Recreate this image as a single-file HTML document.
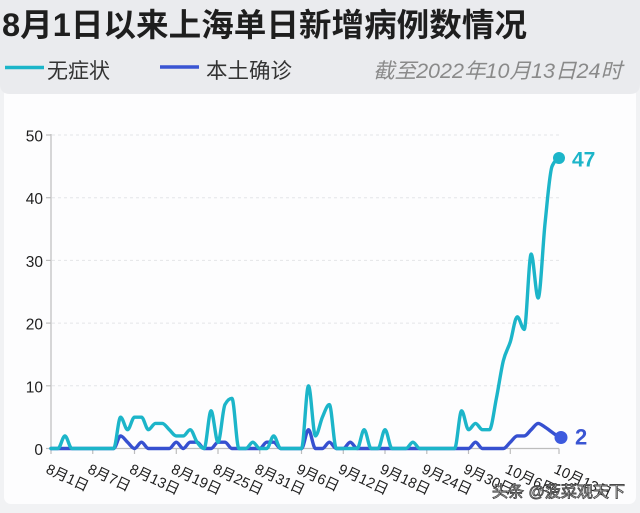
<!DOCTYPE html>
<html><head><meta charset="utf-8">
<style>
html,body{margin:0;padding:0;background:#f3f4f6;}
svg{display:block;}
text{font-family:"Liberation Sans","Noto Sans CJK SC",sans-serif;}
</style></head>
<body>
<svg id="c" width="640" height="513" viewBox="0 0 640 513" xmlns="http://www.w3.org/2000/svg">
  <rect x="0" y="0" width="640" height="513" fill="#f1f2f4"/>
  <rect x="4" y="88" width="632" height="416" rx="7" fill="#fdfdfe"/>
  <path d="M0,0 H640 V84 Q640,94 630,94 H10 Q0,94 0,84 Z" fill="#eaebee"/>

  <!-- title -->
  <text x="2" y="36" font-size="32" font-weight="bold" fill="#1e1e1e" textLength="525" lengthAdjust="spacingAndGlyphs">8月1日以来上海单日新增病例数情况</text>

  <!-- legend -->
  <line x1="5" y1="67.5" x2="44" y2="67.5" stroke="#1cb5c9" stroke-width="3.5"/>
  <text x="47" y="78" font-size="21" fill="#333" textLength="63" lengthAdjust="spacingAndGlyphs">无症状</text>
  <line x1="160" y1="67" x2="199" y2="67" stroke="#3a55d3" stroke-width="3.5"/>
  <text x="206" y="78" font-size="21" fill="#333" textLength="86" lengthAdjust="spacingAndGlyphs">本土确诊</text>
  <text x="373" y="78" font-size="21" font-style="italic" fill="#8a8a8a" textLength="249" lengthAdjust="spacingAndGlyphs">截至2022年10月13日24时</text>

  <!-- grid -->
  <g stroke="#e4e5e8" stroke-width="1" stroke-dasharray="3,3">
    <line x1="52" y1="135" x2="559" y2="135"/>
    <line x1="52" y1="197.7" x2="559" y2="197.7"/>
    <line x1="52" y1="260.4" x2="559" y2="260.4"/>
    <line x1="52" y1="323.1" x2="559" y2="323.1"/>
    <line x1="52" y1="385.8" x2="559" y2="385.8"/>
  </g>
  <!-- axes -->
  <g stroke="#bdbdbd" stroke-width="1.2">
    <line x1="51" y1="134" x2="51" y2="449"/>
    <line x1="51" y1="448.5" x2="559" y2="448.5"/>
    <line x1="46" y1="135" x2="51" y2="135"/>
    <line x1="46" y1="197.7" x2="51" y2="197.7"/>
    <line x1="46" y1="260.4" x2="51" y2="260.4"/>
    <line x1="46" y1="323.1" x2="51" y2="323.1"/>
    <line x1="46" y1="385.8" x2="51" y2="385.8"/>
    <line x1="46" y1="448.5" x2="51" y2="448.5"/>
    <line x1="51" y1="448.5" x2="51" y2="454"/>
    <line x1="92.75" y1="448.5" x2="92.75" y2="454"/>
    <line x1="134.5" y1="448.5" x2="134.5" y2="454"/>
    <line x1="176.3" y1="448.5" x2="176.3" y2="454"/>
    <line x1="218" y1="448.5" x2="218" y2="454"/>
    <line x1="259.8" y1="448.5" x2="259.8" y2="454"/>
    <line x1="301.5" y1="448.5" x2="301.5" y2="454"/>
    <line x1="343.3" y1="448.5" x2="343.3" y2="454"/>
    <line x1="385" y1="448.5" x2="385" y2="454"/>
    <line x1="426.8" y1="448.5" x2="426.8" y2="454"/>
    <line x1="468.5" y1="448.5" x2="468.5" y2="454"/>
    <line x1="510.3" y1="448.5" x2="510.3" y2="454"/>
    <line x1="559" y1="448.5" x2="559" y2="454"/>
  </g>

  <!-- y labels -->
  <g font-size="15.5" fill="#1e1e1e" text-anchor="end">
    <text x="43" y="141.5">50</text>
    <text x="43" y="204.2">40</text>
    <text x="43" y="266.9">30</text>
    <text x="43" y="329.6">20</text>
    <text x="43" y="392.3">10</text>
    <text x="43" y="455">0</text>
  </g>

  <!-- x labels -->
  <g font-size="14.5" fill="#1e1e1e">
    <text transform="translate(45,472.5) rotate(25)">8月1日</text>
    <text transform="translate(86.75,472.5) rotate(25)">8月7日</text>
    <text transform="translate(128.5,472.5) rotate(25)">8月13日</text>
    <text transform="translate(170.3,472.5) rotate(25)">8月19日</text>
    <text transform="translate(212,472.5) rotate(25)">8月25日</text>
    <text transform="translate(253.8,472.5) rotate(25)">8月31日</text>
    <text transform="translate(295.5,472.5) rotate(25)">9月6日</text>
    <text transform="translate(337.3,472.5) rotate(25)">9月12日</text>
    <text transform="translate(379,472.5) rotate(25)">9月18日</text>
    <text transform="translate(420.8,472.5) rotate(25)">9月24日</text>
    <text transform="translate(462.5,472.5) rotate(25)">9月30日</text>
    <text transform="translate(504.3,472.5) rotate(25)">10月6日</text>
    <text transform="translate(553,472.5) rotate(25)">10月13日</text>
  </g>

  <!-- series -->
  <path id="blue" d="" fill="none" stroke="#3650d0" stroke-width="3.4" stroke-linejoin="round" stroke-linecap="round"/>
  <path id="cyan" d="" fill="none" stroke="#1cb5c9" stroke-width="3.4" stroke-linejoin="round" stroke-linecap="round"/>

  <circle cx="559" cy="158" r="6" fill="#1cb5c9"/>
  <circle cx="561" cy="437.5" r="6.5" fill="#3d5ade"/>
  <text x="572" y="166.5" font-size="21" font-weight="bold" fill="#1cb5c9">47</text>
  <text x="575" y="444.5" font-size="22" font-weight="bold" fill="#3a55d3">2</text>

  <!-- watermark -->
  <text x="492" y="497" font-size="16" fill="#ffffff" stroke="#4a4a4a" stroke-width="0.9" textLength="133" lengthAdjust="spacingAndGlyphs">头条 @菠菜观天下</text>
</svg>
<script>
(function(){
  var cyan=[0,0,2,0,0,0,0,0,0,0,
            5,3,5,5,3,4,4,3,2,2,
            3,1,0,6,1,7,8,0,0,1,
            0,0,2,0,0,0,0,10,2,5,
            7,0,0,0,0,3,0,0,3,0,
            0,0,1,0,0,0,0,0,0,6,
            3,4,3,3,8,14,17,21,19,31,
            24,36,45,46.3];
  var blue=[0,0,0,0,0,0,0,0,0,0,
            2,1,0,1,0,0,0,0,1,0,
            1,1,0,0,1,1,0,0,0,0,
            0,1,1,0,0,0,0,3,0,0,
            1,0,0,1,0,0,0,0,0,0,
            0,0,0,0,0,0,0,0,0,0,
            0,1,0,0,0,0,1,2,2,3,
            4,3.4,2.6,1.8];
  function X(i){return 51+i*6.959;}
  function Y(v){return 448.5-v*6.27;}
  function sign(v){return v<0?-1:(v>0?1:0);}
  function mono(vals){
    var n=vals.length,xs=[],ys=[],h=[],s=[],t=[],i;
    for(i=0;i<n;i++){xs.push(X(i));ys.push(Y(vals[i]));}
    for(i=0;i<n-1;i++){h[i]=xs[i+1]-xs[i];s[i]=(ys[i+1]-ys[i])/h[i];}
    for(i=1;i<n-1;i++){
      if(s[i-1]*s[i]<=0){t[i]=0;}
      else{
        var p=(s[i-1]*h[i]+s[i]*h[i-1])/(h[i-1]+h[i]);
        t[i]=(sign(s[i-1])+sign(s[i]))*Math.min(Math.abs(s[i-1]),Math.abs(s[i]),0.5*Math.abs(p));
      }
    }
    t[0]=s[0]===0?0:(3*s[0]-t[1])/2;
    t[n-1]=(3*s[n-2]-t[n-2])/2;
    var d="M"+xs[0].toFixed(2)+","+ys[0].toFixed(2);
    for(i=0;i<n-1;i++){
      var hh=h[i]/3;
      d+="C"+(xs[i]+hh).toFixed(2)+","+(ys[i]+t[i]*hh).toFixed(2)+" "+
         (xs[i+1]-hh).toFixed(2)+","+(ys[i+1]-t[i+1]*hh).toFixed(2)+" "+
         xs[i+1].toFixed(2)+","+ys[i+1].toFixed(2);
    }
    return d;
  }
  document.getElementById("cyan").setAttribute("d",mono(cyan));
  document.getElementById("blue").setAttribute("d",mono(blue));
})();
</script>
</body></html>
